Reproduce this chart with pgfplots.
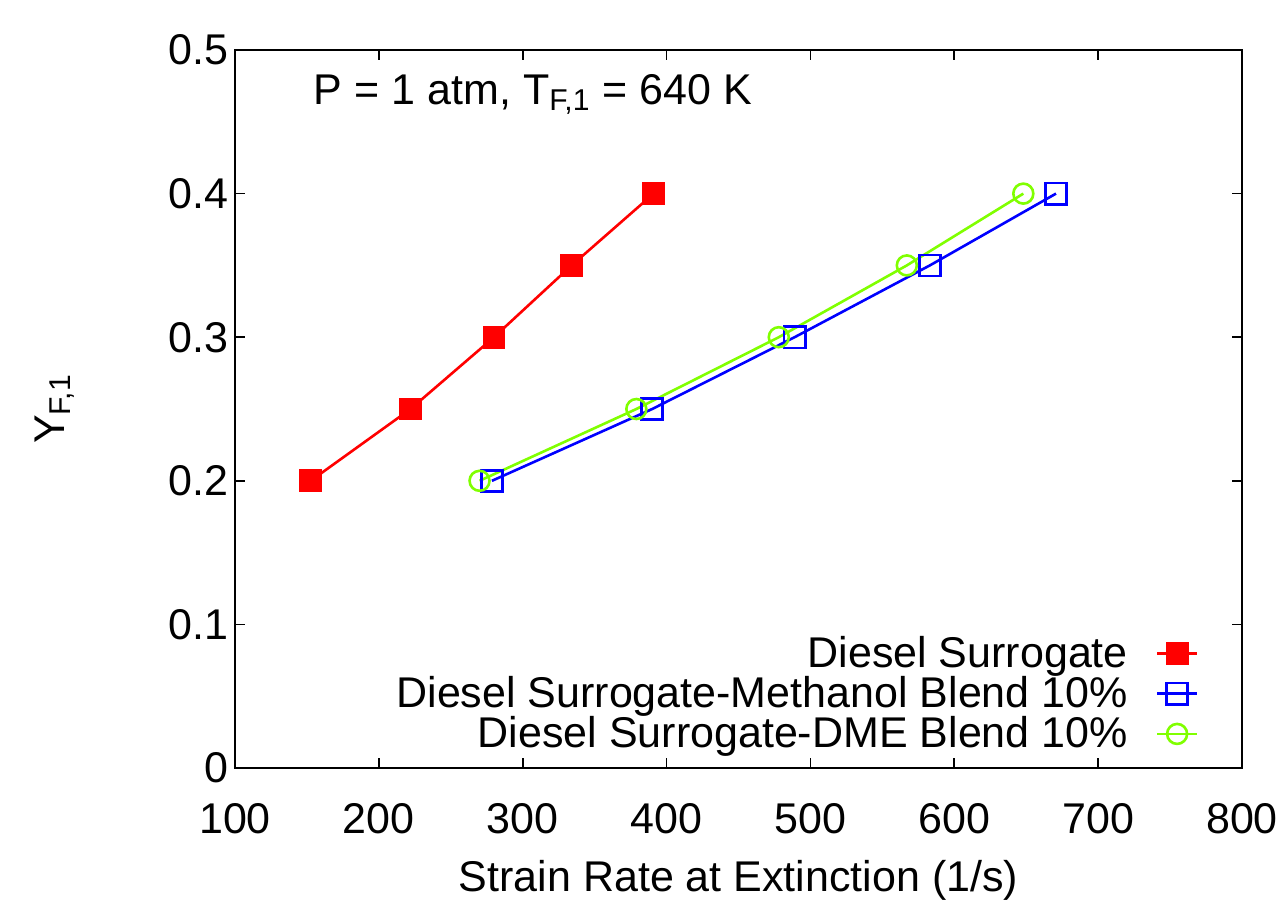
\documentclass[border=0pt]{standalone}
\usepackage{fontspec}
\setmainfont{Liberation Sans}
\usepackage{pgfplots}
\pgfplotsset{compat=1.18}
\definecolor{limeg}{RGB}{128,255,0}
\newcommand{\ff}{\fontsize{21.5}{25.8}\selectfont}
\begin{document}
\begin{tikzpicture}
\begin{axis}[
  name=ax,
  scale only axis,
  width=503.5pt, height=359pt,
  xmin=100, xmax=800, ymin=0, ymax=0.5,
  xtick={100,200,300,400,500,600,700,800},
  ytick={0,0.1,0.2,0.3,0.4,0.5},
  tick align=inside, major tick length=5pt,
  axis line style={line width=1pt},
  every tick/.style={black, line width=0.8pt},
  /pgf/number format/assume math mode=true,
  tick label style={font=\ff},
  label style={font=\ff},
  xticklabel style={yshift=-14pt},
  xlabel={Strain Rate at Extinction (1/s)},
  ylabel={Y\textsubscript{F,1}},
  xlabel style={at={(axis description cs:0.5,-0.156)}, anchor=center},
  ylabel style={at={(axis description cs:-0.179,0.5)}, anchor=center},
  legend style={draw=none, fill=none, font=\ff, at={(0.963,0.012)}, anchor=south east, legend cell align=right, row sep=-1pt, column sep=12pt},
  legend plot pos=right,
  legend image code/.code={\draw[mark repeat=2,mark phase=2] plot coordinates {(0cm,0cm) (0.35cm,0cm) (0.7cm,0cm)};},
]
\addplot[red, line width=1.3pt, mark=square*, mark size=5.2pt, mark options={solid, fill=red, line width=1pt}]
  coordinates {(152.6,0.2) (222,0.25) (280,0.3) (334,0.35) (391,0.4)};
\addlegendentry{Diesel Surrogate}
\addplot[blue, line width=1.3pt, mark=square, mark size=5.3pt, mark options={solid, line width=1.3pt}]
  coordinates {(278.6,0.2) (390,0.25) (489,0.3) (583,0.35) (670.7,0.4)};
\addlegendentry{Diesel Surrogate-Methanol Blend 10\%}
\addplot[limeg, line width=1.3pt, mark=o, mark size=5pt, mark options={solid, line width=1.3pt}]
  coordinates {(270,0.2) (379,0.25) (478,0.3) (567,0.35) (648,0.4)};
\addlegendentry{Diesel Surrogate-DME Blend 10\%}
\node[anchor=west, font=\ff] at (axis cs:150,0.469) {P = 1 atm, T\textsubscript{F,1} = 640 K};
\end{axis}
\path (ax.south west) ++(-117.5pt,-75pt) rectangle ++(643pt,459pt);
\end{tikzpicture}
\end{document}
